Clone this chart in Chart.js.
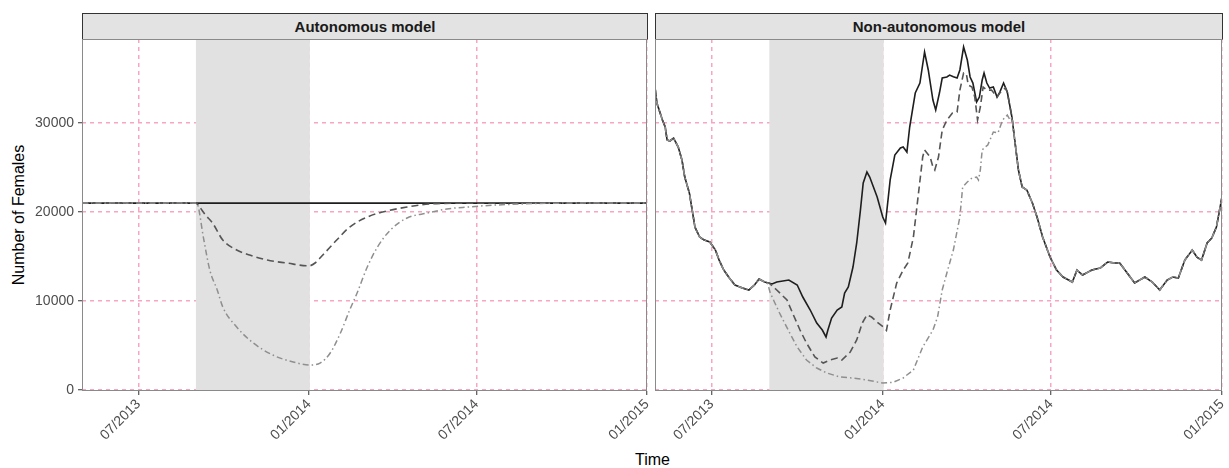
<!DOCTYPE html>
<html>
<head>
<meta charset="utf-8">
<script src="https://cdn.jsdelivr.net/npm/chart.js@4"></script>
<style>
  body { margin: 0; background: #fff; font-family: "Liberation Sans", Arial, sans-serif; }
  #wrap { position: relative; width: 1229px; height: 468px; overflow: hidden; }
  .strip {
    position: absolute; top: 13px; height: 27px; box-sizing: border-box;
    background: #e3e3e3; border: 1px solid #333; color: #1a1a1a;
    font-weight: bold; font-size: 15px; line-height: 25px; text-align: center;
  }
  .xtitle { position: absolute; left: 0; width: 1305px; top: 451px; text-align: center; font-size: 16px; color: #000; }
  .ytitle {
    position: absolute; left: 19px; top: 215px; font-size: 16px; color: #000; white-space: nowrap;
    transform: translate(-50%, -50%) rotate(-90deg);
  }
  canvas { position: absolute; }
</style>
</head>
<body>
<div id="wrap">
  <div class="strip" style="left:82px;width:566px">Autonomous model</div>
  <div class="strip" style="left:655px;width:568px">Non-autonomous model</div>
  <div class="ytitle">Number of Females</div>
  <div class="xtitle">Time</div>
  <canvas id="autoChart" width="650" height="429" style="left:0;top:39px"></canvas>
  <canvas id="nonAutoChart" width="574" height="429" style="left:655px;top:39px"></canvas>
</div>
<script>
"use strict";

// x values are days since 01/05/2013
const xTickDays = [61, 245, 426, 610];
const xTickLabels = ["07/2013", "01/2014", "07/2014", "01/2015"];
const yTickValues = [0, 10000, 20000, 30000];
const shadeStart = 123; // 01/09/2013
const shadeEnd = 246; // ~01/01/2014

// Autonomous model
const autoSolidDays = [0, 610];
const autoSolidVals = [21000, 21000];
const autoDashDays = [0, 123, 127, 133, 141, 152, 167, 181, 200, 221, 245, 252, 260, 275, 289, 308, 329, 351, 376, 420, 610];
const autoDashVals = [21000, 21000, 20560, 19700, 18760, 16850, 15730, 15170, 14600, 14270, 13950, 14300, 15170, 16850, 18310, 19440, 20110, 20560, 20900, 21000, 21000];
const autoDotDays = [0, 123, 125, 131, 138, 146, 152, 167, 185, 206, 228, 246, 257, 268, 279, 289, 297, 308, 319, 333, 351, 373, 394, 416, 448, 520, 610];
const autoDotVals = [21000, 21000, 20790, 17190, 13480, 11240, 9330, 7080, 5280, 3930, 3150, 2810, 3030, 4160, 6400, 8990, 10900, 13820, 16070, 17980, 19330, 19890, 20340, 20560, 20790, 21000, 21000];

// Non-autonomous model (solid = no intervention)
const nonAutoDays = [0, 2, 8, 11, 13, 16, 20, 25, 29, 32, 37, 40, 43, 48, 53, 59, 65, 69, 74, 80, 86, 94, 101, 107, 112, 118,
  126, 131, 144, 153, 159, 167, 174, 180, 184, 186, 190, 196, 201, 204, 208, 213, 217, 221, 224, 228, 231, 239, 245, 248,
  253, 258, 264, 267, 271, 274, 280, 285, 290, 294, 299, 302, 306, 309, 314, 317, 321, 325, 328, 332, 336, 339, 342, 346,
  349, 352, 354, 357, 360, 364, 368, 371, 375, 379, 384, 387, 391, 395, 400, 406, 411, 417, 425, 432, 439, 449, 454, 460,
  470, 479, 487, 495, 500, 508, 516, 527, 535, 543, 551, 557, 563, 570, 578, 583, 588, 594, 599, 604, 610];
const nonAutoSolid = [34000, 32250, 30340, 29550, 28100, 27980, 28300, 27300, 25840, 23930, 22130, 20220, 18300, 17190, 16850, 16630, 15730, 14600, 13480, 12580, 11800, 11460, 11240, 11800, 12470, 12130,
  11910, 12130, 12360, 11800, 10450, 8990, 7530, 6740, 5960, 6740, 8090, 8990, 9330, 10900, 11570, 13820, 16520, 20220, 23260, 24490, 23930, 21690, 19440, 18760,
  23600, 26400, 27190, 27300, 26740, 29550, 33370, 34490, 37980, 35960, 32580, 31460, 33370, 35060, 35170, 35390, 35200, 35060, 35960, 38540, 37080, 35170, 34490, 32360,
  32920, 34830, 35620, 34490, 33930, 34040, 32920, 33480, 34490, 33480, 30670, 28090, 24720, 22810, 22470, 21010, 19440, 17190, 14940, 13480, 12700, 12130, 13480, 12920,
  13480, 13710, 14380, 14270, 14270, 13150, 12020, 12700, 12130, 11240, 12360, 12700, 12580, 14600, 15730, 14940, 14600, 16520, 17080, 18310, 21690];
// Where the intervention runs the other two curves leave the solid one
const nonAutoDashDays = [123, 126, 131, 142, 148, 156, 163, 172, 181, 188, 196, 201, 210, 217, 223, 228, 233, 240, 247, 249, 253, 260, 267, 272, 278, 283, 288, 290,
  296, 299, 301, 305, 309, 314, 320, 325, 328, 332, 335, 337, 341, 344, 347, 350, 353, 357, 362, 368, 371, 374, 377];
const nonAutoDash = [12000, 11700, 11240, 10110, 8650, 6740, 5280, 3710, 3030, 3370, 3600, 3370, 4270, 5620, 7530, 8430, 8200, 7530, 6970, 6700, 8990, 12020, 13480, 14270, 17190, 21690, 26180, 26970,
  26180, 25060, 24720, 26180, 29210, 30340, 31120, 31240, 33700, 35620, 35500, 34270, 34040, 32920, 30340, 31800, 34040, 33700, 33700, 32920, 33370, 33700, 33930];
const nonAutoDotDays = [121, 124, 134, 145, 153, 163, 174, 185, 199, 213, 228, 245, 256, 267, 271, 278, 288, 299, 304, 309, 314, 321, 328, 331, 336, 341, 346, 348,
  350, 352, 355, 358, 364, 369, 374, 379, 382];
const nonAutoDot = [12050, 10900, 8650, 6400, 4830, 3370, 2470, 1910, 1460, 1350, 1120, 790, 850, 1350, 1690, 2250, 4830, 6740, 8200, 11240, 13150, 15730, 19440, 22810, 23370, 23820, 23930, 23600,
  24720, 26970, 27300, 27530, 28990, 28880, 30340, 30900, 30340];

const FONT = "'Liberation Sans', Arial, sans-serif";
const gridPink = "#f6a6c3";

function toPoints(days, vals) {
  return days.map((d, i) => ({ x: d, y: vals[i] }));
}

// solid curve before and after the divergent part, divergent part in between
function spliceOnSolid(days, vals) {
  const first = days[0];
  const last = days[days.length - 1];
  const solid = toPoints(nonAutoDays, nonAutoSolid);
  const before = solid.filter((p) => p.x < first);
  const after = solid.filter((p) => p.x > last);
  return before.concat(toPoints(days, vals), after);
}

const panelPlugin = {
  id: "panel",
  beforeDatasetsDraw(chart) {
    const { ctx, chartArea, scales } = chart;
    const x0 = scales.x.getPixelForValue(shadeStart);
    const x1 = scales.x.getPixelForValue(shadeEnd);
    ctx.save();
    ctx.fillStyle = "#e1e1e1";
    ctx.fillRect(x0, chartArea.top, x1 - x0, chartArea.bottom - chartArea.top);
    ctx.restore();
  },
  afterDraw(chart) {
    const { ctx, chartArea } = chart;
    ctx.save();
    ctx.strokeStyle = "#8a8a8a";
    ctx.lineWidth = 1;
    ctx.strokeRect(chartArea.left + 0.5, chartArea.top + 0.5,
      chartArea.right - chartArea.left - 1, chartArea.bottom - chartArea.top - 1);
    ctx.restore();
  },
};

function lineSets(solid, dash, dot, smooth) {
  const common = {
    pointRadius: 0,
    fill: false,
    cubicInterpolationMode: smooth ? "monotone" : "default",
    tension: 0,
  };
  return [
    Object.assign({ label: "dotdash", data: dot, borderColor: "#8f8f8f", borderWidth: 1.5, borderDash: [6, 3, 1.5, 3] }, common),
    Object.assign({ label: "dashed", data: dash, borderColor: "#555555", borderWidth: 1.6, borderDash: [7, 4] }, common),
    Object.assign({ label: "solid", data: solid, borderColor: "#1e1e1e", borderWidth: 1.6 }, common),
  ];
}

function makeOptions(showY, padRight) {
  return {
    responsive: false,
    animation: false,
    events: [],
    layout: { padding: { left: 0, right: padRight, top: 0, bottom: 0 } },
    plugins: { legend: { display: false }, tooltip: { enabled: false } },
    scales: {
      x: {
        type: "linear",
        min: 0,
        max: 610,
        afterBuildTicks: (s) => { s.ticks = xTickDays.map((v) => ({ value: v })); },
        afterFit: (s) => { s.height = 77; s.paddingLeft = 0; s.paddingRight = 0; },
        ticks: {
          autoSkip: false,
          minRotation: 45,
          maxRotation: 45,
          padding: 1,
          color: "#4d4d4d",
          font: { family: FONT, size: 14 },
          callback: (v, i) => xTickLabels[i],
        },
        grid: { color: gridPink, lineWidth: 1.5, tickLength: 4, tickColor: "#333", tickWidth: 1 },
        border: { display: false, dash: [4, 4] },
      },
      y: {
        type: "linear",
        min: -110,
        max: 39440,
        afterBuildTicks: (s) => { s.ticks = yTickValues.map((v) => ({ value: v })); },
        afterFit: (s) => { s.width = showY ? 82 : 0; s.paddingTop = 0; s.paddingBottom = 0; },
        ticks: {
          display: showY,
          padding: 4,
          color: "#4d4d4d",
          font: { family: FONT, size: 14 },
          callback: (v) => String(v),
        },
        grid: { color: gridPink, lineWidth: 1.5, drawTicks: showY, tickLength: 4, tickColor: "#333", tickWidth: 1 },
        border: { display: false, dash: [4, 4] },
      },
    },
  };
}

new Chart(document.getElementById("autoChart"), {
  type: "line",
  data: {
    datasets: lineSets(
      toPoints(autoSolidDays, autoSolidVals),
      toPoints(autoDashDays, autoDashVals),
      toPoints(autoDotDays, autoDotVals),
      true,
    ),
  },
  options: makeOptions(true, 3),
  plugins: [panelPlugin],
});

new Chart(document.getElementById("nonAutoChart"), {
  type: "line",
  data: {
    datasets: lineSets(
      toPoints(nonAutoDays, nonAutoSolid),
      spliceOnSolid(nonAutoDashDays, nonAutoDash),
      spliceOnSolid(nonAutoDotDays, nonAutoDot),
      false,
    ),
  },
  options: makeOptions(false, 7),
  plugins: [panelPlugin],
});
</script>
</body>
</html>
